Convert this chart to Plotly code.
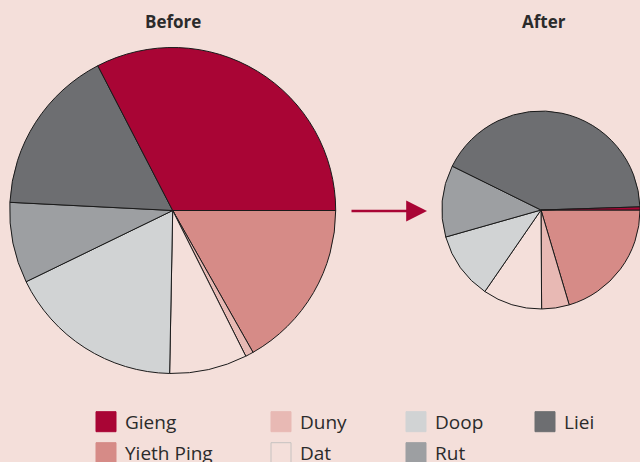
import plotly.graph_objects as go

W, H = 640, 462
BG = "#f4dfda"
FONT = "Open Sans"

# Categories listed counter-clockwise from 3 o'clock
categories = ["Gieng", "Liei", "Rut", "Doop", "Dat", "Duny", "Yieth Ping"]
before_values = [32.6, 16.6, 8.0, 17.5, 7.7, 0.8, 16.8]
after_values = [0.5, 42.2, 11.7, 11.0, 9.7, 4.5, 20.4]

colors = {
    "Gieng": "#a90535",
    "Liei": "#6d6e71",
    "Rut": "#9d9fa2",
    "Doop": "#d1d3d4",
    "Dat": BG,
    "Duny": "#e8b9b4",
    "Yieth Ping": "#d68b87",
}

# Legend layout (row-major)
legend_rows = [["Gieng", "Duny", "Doop", "Liei"], ["Yieth Ping", "Dat", "Rut"]]
legend_cols_px = [96, 271, 406, 535]
legend_rows_px = [421.7, 452.7]


def px_x(x):
    return x / W


def px_y(y):
    return 1 - y / H


def domain(cx, cy, r):
    x0 = max(0.0, px_x(cx - r))
    x1 = min(1.0, px_x(cx + r))
    return dict(x=[x0, x1], y=[px_y(cy + r), px_y(cy - r)])


fig = go.Figure()

# Slices run clockwise from 3 o'clock, so feed the categories in reverse
order = categories[::-1]
pie_style = dict(
    sort=False,
    direction="clockwise",
    rotation=90,
    textinfo="none",
    hoverinfo="label+percent",
    showlegend=False,
    marker=dict(colors=[colors[c] for c in order],
                line=dict(color="#1a1a1a", width=1)),
)

fig.add_trace(go.Pie(labels=order, values=before_values[::-1],
                     domain=domain(172.7, 210.5, 163), name="Before", **pie_style))
fig.add_trace(go.Pie(labels=order, values=after_values[::-1],
                     domain=domain(541, 210, 99), name="After", **pie_style))

annotations = [
    dict(text="<b>Before</b>", x=px_x(173), y=px_y(21.5), xref="paper", yref="paper",
         showarrow=False, font=dict(family=FONT, size=17, color="#2b2b2b"),
         xanchor="center", yanchor="middle"),
    dict(text="<b>After</b>", x=px_x(544), y=px_y(21.5), xref="paper", yref="paper",
         showarrow=False, font=dict(family=FONT, size=17, color="#2b2b2b"),
         xanchor="center", yanchor="middle"),
    # Arrow between the two pies
    dict(text="", x=px_x(427), y=px_y(211), xref="paper", yref="paper",
         ax=-77, ay=0, axref="pixel", ayref="pixel",
         showarrow=True, arrowhead=2, arrowsize=1.6, arrowwidth=2.6,
         arrowcolor="#a90535"),
]

shapes = []
for r, row in enumerate(legend_rows):
    cy = legend_rows_px[r]
    for c, name in enumerate(row):
        x0 = legend_cols_px[c]
        border = "#c6c2c0" if name == "Dat" else colors[name]
        shapes.append(dict(type="rect", xref="paper", yref="paper",
                           x0=px_x(x0), x1=px_x(x0 + 20),
                           y0=px_y(cy + 10), y1=px_y(cy - 10),
                           fillcolor=colors[name],
                           line=dict(color=border, width=1)))
        annotations.append(dict(text=name, x=px_x(x0 + 27), y=px_y(cy),
                                xref="paper", yref="paper", showarrow=False,
                                xanchor="left", yanchor="middle",
                                font=dict(family=FONT, size=19, color="#2b2b2b")))

fig.update_layout(
    width=W, height=H,
    margin=dict(l=0, r=0, t=0, b=0),
    paper_bgcolor=BG, plot_bgcolor=BG,
    annotations=annotations, shapes=shapes,
)

fig.write_html("out.html")
